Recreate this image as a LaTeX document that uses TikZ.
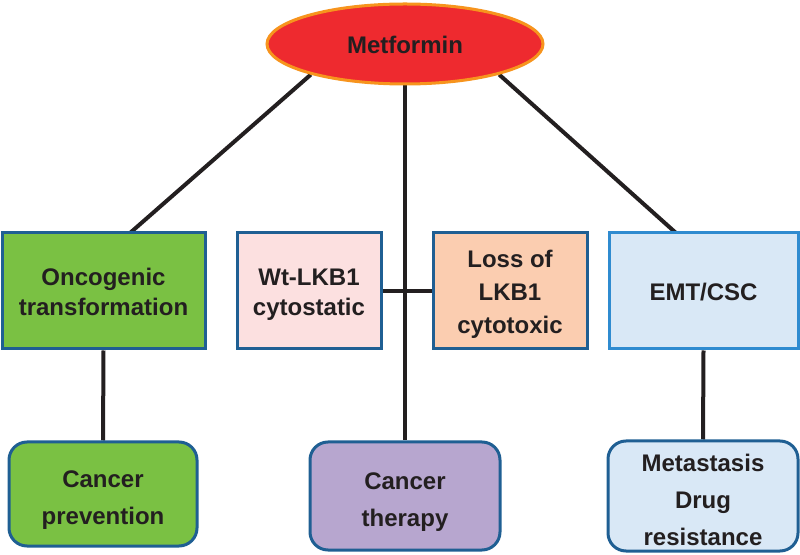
\documentclass[tikz,border=0pt]{standalone}
\usepackage{fontspec}
\setmainfont{Liberation Sans}
\usetikzlibrary{shapes.geometric,backgrounds}
\definecolor{metred}{HTML}{EE2A2F}
\definecolor{metorange}{HTML}{F7941D}
\definecolor{boxgreen}{HTML}{7AC143}
\definecolor{boxpink}{HTML}{FCE0E0}
\definecolor{boxpeach}{HTML}{FBCDB0}
\definecolor{boxblue}{HTML}{D9E8F6}
\definecolor{boxpurple}{HTML}{B7A6CF}
\definecolor{edgeblue}{HTML}{1F5F93}
\definecolor{edgelight}{HTML}{2F8BD0}
\definecolor{inkc}{HTML}{231F20}
\newcommand\fs{\rule[-6pt]{0pt}{31pt}}
\newcommand\ts{\rule[-6pt]{0pt}{23pt}}
\newcommand\bfst{\rule[-6pt]{0pt}{36pt}}
\tikzset{
  x=1pt,y=1pt,
  lbl/.style={font=\bfseries\fontsize{24}{30}\selectfont, text=inkc, align=center},
  topbox/.style={lbl, draw=edgeblue, line width=3pt, rectangle, minimum height=116pt, inner sep=0pt},
  botbox/.style={lbl, draw=edgeblue, line width=3pt, rectangle, rounded corners=18pt, inner sep=0pt},
  conn/.style={draw=inkc, line width=4pt}
}
\begin{document}
\begin{tikzpicture}
\useasboundingbox (0,0) rectangle (800,554);
\node[ellipse, fill=metred, draw=metorange, line width=3pt, minimum width=276pt, minimum height=80pt, lbl] (met) at (405,510) {\fs Metformin};
\node[topbox, fill=boxgreen, minimum width=203pt] (onc) at (103.5,263) {\fs Oncogenic\\\ts transformation};
\node[topbox, fill=boxpink, minimum width=144pt] (wt) at (309,263) {\fs Wt-LKB1\\\ts cytostatic};
\node[topbox, fill=boxpeach, minimum width=154pt, font=\bfseries\fontsize{24}{33}\selectfont] (loss) at (510,263) {\fs Loss of\\\ts LKB1\\\ts cytotoxic};
\node[topbox, fill=boxblue, draw=edgelight, minimum width=189pt] (emt) at (703.5,263) {\fs EMT/CSC};
\node[botbox, fill=boxgreen, minimum width=188pt, minimum height=104pt, font=\bfseries\fontsize{24}{37}\selectfont] (prev) at (103,60) {\bfst Cancer\\\ts prevention};
\node[botbox, fill=boxpurple, minimum width=190pt, minimum height=108pt, font=\bfseries\fontsize{24}{37}\selectfont] (ther) at (405,58) {\bfst Cancer\\\ts therapy};
\node[botbox, fill=boxblue, minimum width=190pt, minimum height=108pt, font=\bfseries\fontsize{24}{37}\selectfont] (metas) at (703,58) {\bfst Metastasis\\\ts Drug\\\ts resistance};
\coordinate (oncin) at (130,321);
\coordinate (emtin) at (676,321);
\begin{scope}[on background layer]
\draw[conn] (met.198) -- (oncin);
\draw[conn] (met.-18) -- (emtin);
\draw[conn] (met.center) -- (ther.north);
\draw[conn] (wt.east) -- (loss.west);
\draw[conn] (onc.south) -- (prev.north);
\draw[conn] (emt.south) -- (metas.north);
\end{scope}
\end{tikzpicture}
\end{document}
